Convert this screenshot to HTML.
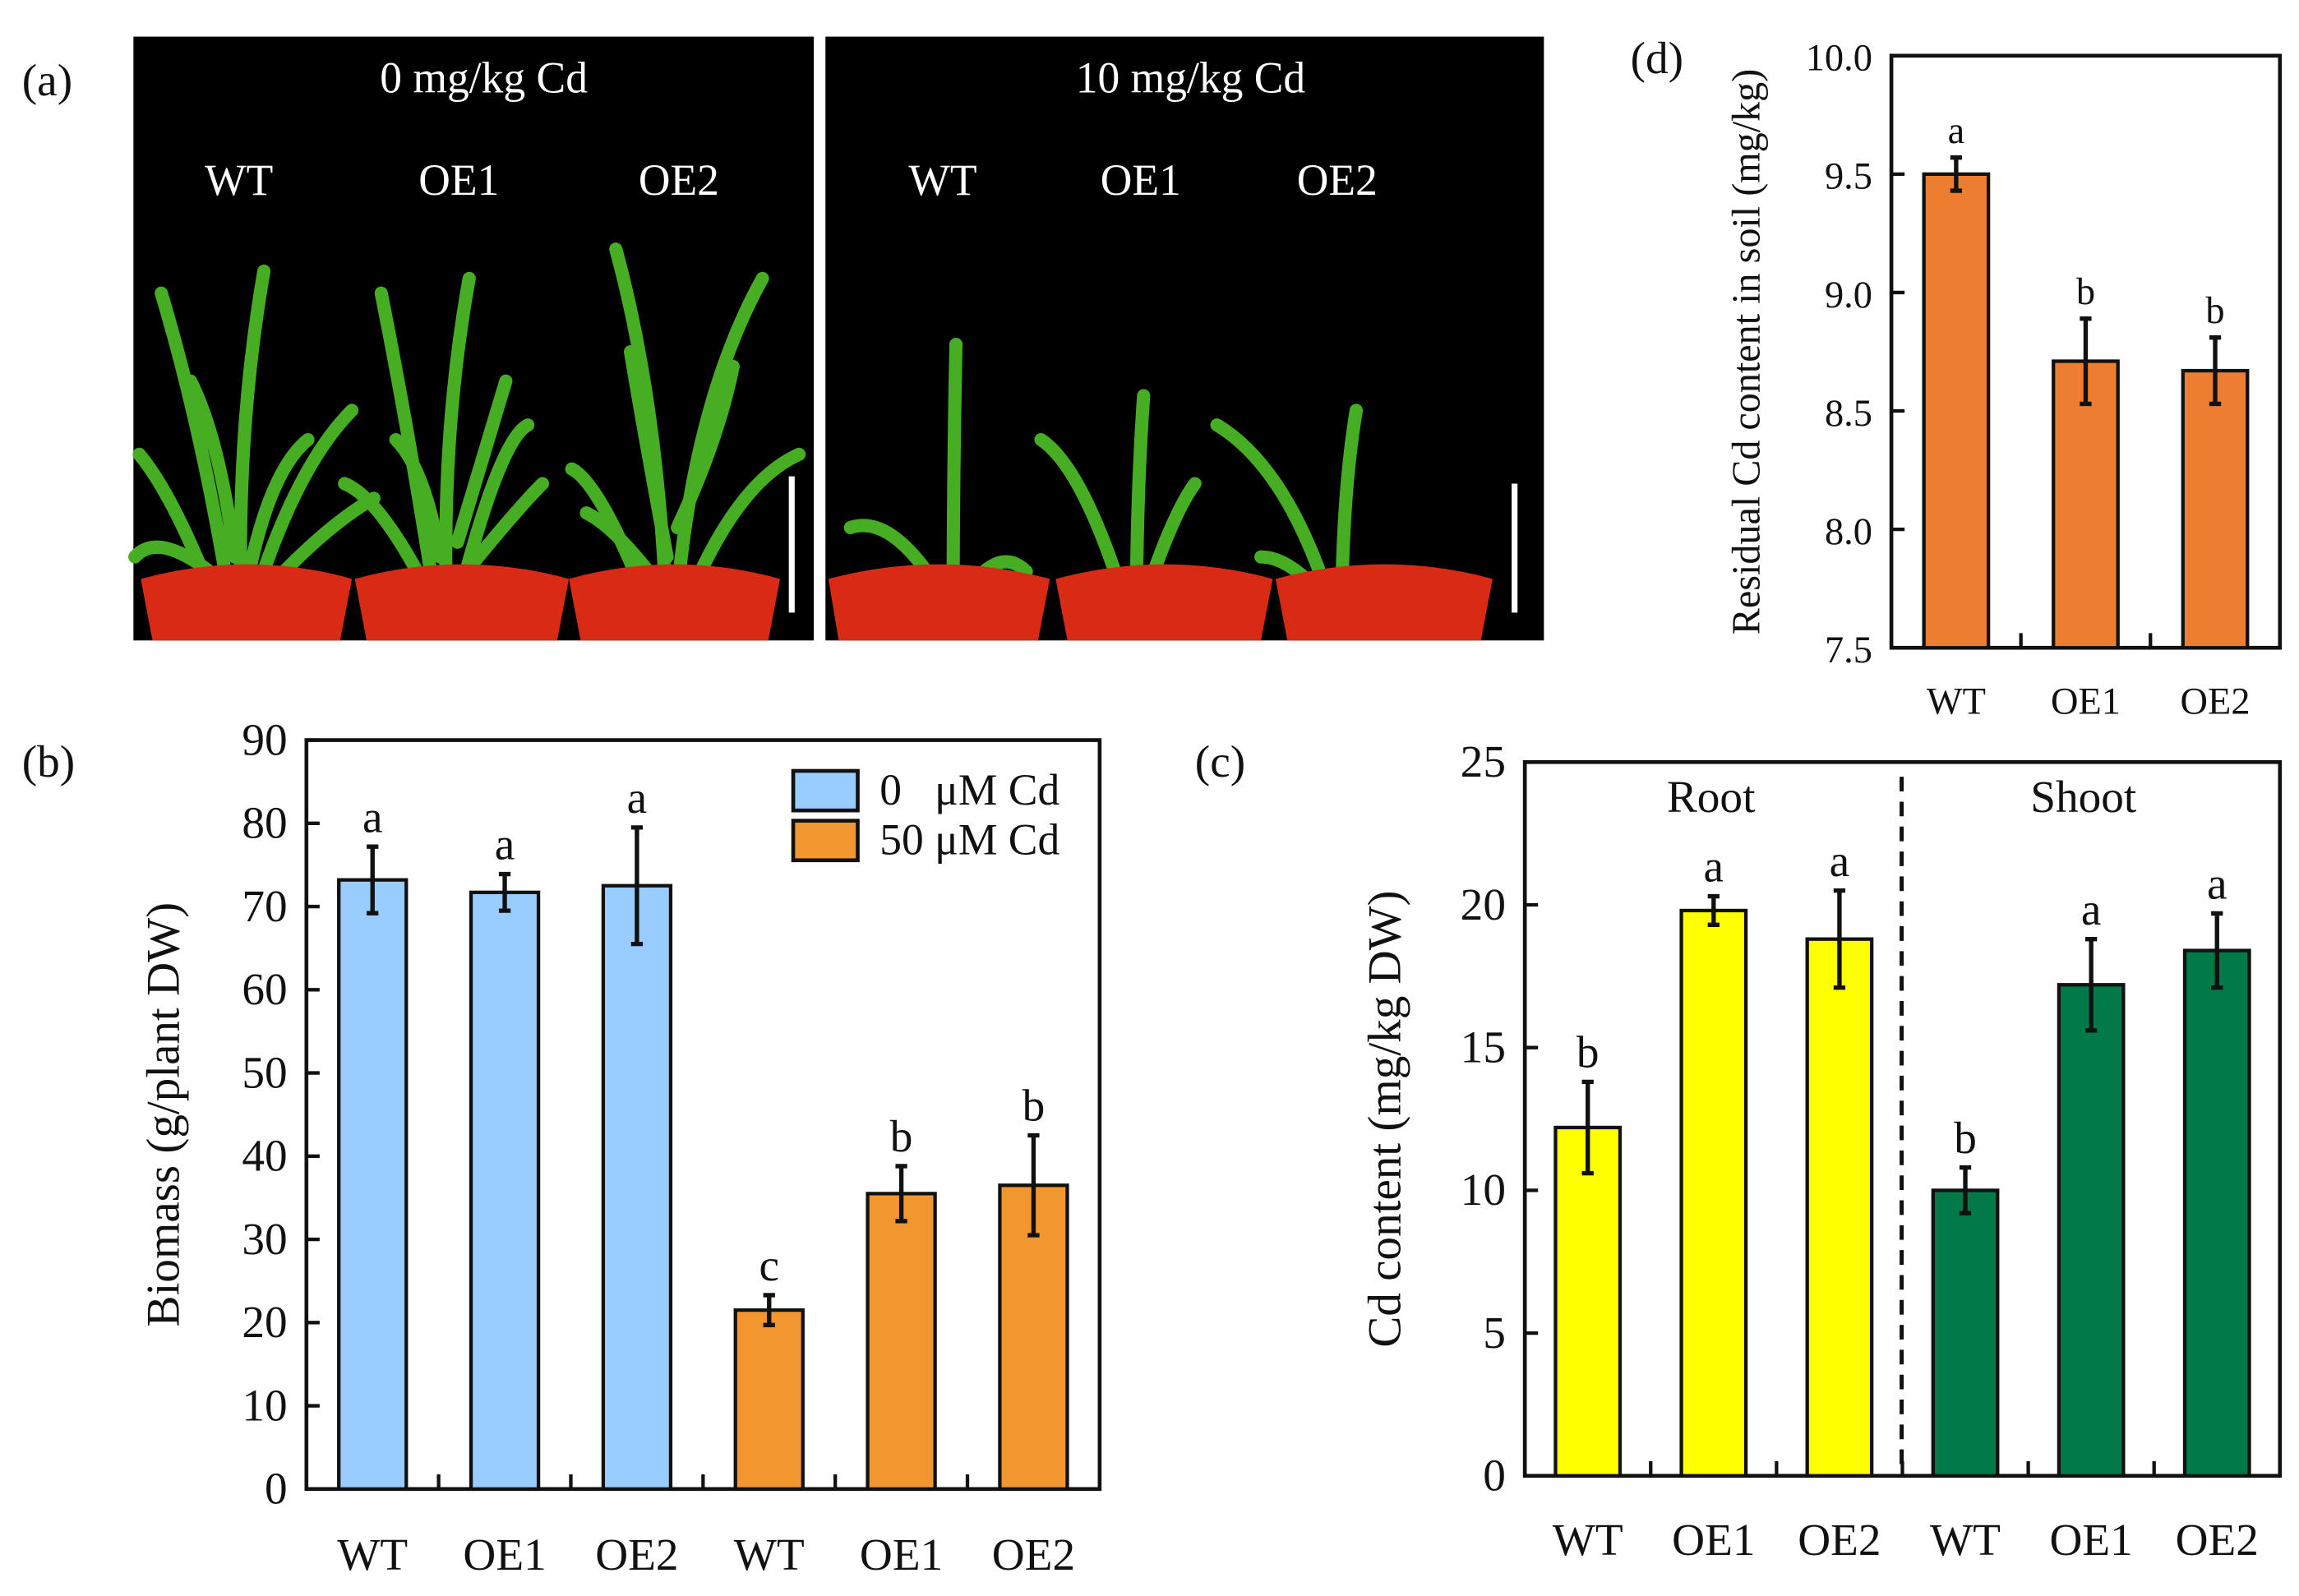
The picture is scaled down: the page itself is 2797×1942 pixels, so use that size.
<!DOCTYPE html>
<html><head><meta charset="utf-8"><style>
html,body{margin:0;padding:0;background:#fff}
svg{display:block}
text{font-family:"Liberation Serif","Times New Roman",serif;fill:#111}
</style></head><body>
<svg id="fig" width="2797" height="1942" viewBox="0 0 1568 1089" preserveAspectRatio="none" xmlns="http://www.w3.org/2000/svg">
<g id="panelA">
  <text x="15" y="65" font-size="31">(a)</text>
  <rect x="91" y="25" width="464" height="412" fill="#000"/>
  <rect x="563" y="25" width="490" height="412" fill="#000"/>
  <g font-size="30" text-anchor="middle">
    <text x="330" y="63" style="fill:#fff">0 mg/kg Cd</text>
    <text x="812" y="63" style="fill:#fff">10 mg/kg Cd</text>
    <text x="163" y="133" style="fill:#fff">WT</text>
    <text x="313" y="133" style="fill:#fff">OE1</text>
    <text x="463" y="133" style="fill:#fff">OE2</text>
    <text x="643" y="133" style="fill:#fff">WT</text>
    <text x="778" y="133" style="fill:#fff">OE1</text>
    <text x="912" y="133" style="fill:#fff">OE2</text>
  </g>
  <g id="plants" fill="none" stroke="#45ae22" stroke-width="9" stroke-linecap="round">
    <path d="M165 430 Q160 300 180 185 M160 430 Q140 300 110 200 M170 420 Q200 320 240 280 M150 420 Q120 340 95 310 M175 410 Q220 360 255 340 M155 400 Q110 360 92 380 M160 380 Q150 300 130 260 M170 390 Q185 320 210 300"/>
    <path d="M305 430 Q300 300 320 190 M300 430 Q280 300 260 200 M310 420 Q340 300 360 290 M295 410 Q260 340 235 330 M310 400 Q350 350 370 330 M300 380 Q290 320 270 300 M312 370 Q330 310 345 260"/>
    <path d="M455 430 Q450 280 420 170 M460 430 Q470 280 520 190 M465 420 Q500 330 545 310 M445 420 Q410 330 390 320 M450 400 Q420 360 400 350 M455 380 Q440 300 430 240 M462 360 Q490 300 500 250"/>
    <path d="M650 430 Q650 330 652 235 M645 410 Q610 350 580 360 M655 410 Q680 370 700 390"/>
    <path d="M775 430 Q775 340 780 270 M770 420 Q740 320 710 300 M780 410 Q800 350 815 330"/>
    <path d="M915 430 Q915 340 925 280 M910 420 Q880 320 830 290 M905 410 Q880 380 860 380"/>
  </g>
  <g fill="#d92a14">
    <path d="M96 395 Q170 375 240 395 L232 437 L104 437Z"/>
    <path d="M242 395 Q315 375 388 395 L380 437 L250 437Z"/>
    <path d="M388 395 Q460 375 532 395 L524 437 L396 437Z"/>
    <path d="M565 395 Q640 375 716 395 L708 437 L572 437Z"/>
    <path d="M720 395 Q795 375 868 395 L860 437 L728 437Z"/>
    <path d="M870 395 Q945 375 1018 395 L1010 437 L878 437Z"/>
  </g>
  <rect x="538" y="325" width="4" height="93" fill="#fff"/>
  <rect x="1031" y="330" width="4" height="88" fill="#fff"/>
</g>
<g id="panelB"></g>
<g id="panelC"></g>
<g id="panelD"></g>
</svg>
<script>
const NS="http://www.w3.org/2000/svg";
// Panel b data
const bCategories=["WT","OE1","OE2","WT","OE1","OE2"];
const bValues=[73.2,71.7,72.5,21.5,35.5,36.5];
const bErrors=[4.0,2.2,7.0,1.8,3.3,6.0];
const bLetters=["a","a","a","c","b","b"];
const bTicks=[0,10,20,30,40,50,60,70,80,90];
// Panel c data
const cCategories=["WT","OE1","OE2","WT","OE1","OE2"];
const cValues=[12.2,19.8,18.8,10.0,17.2,18.4];
const cErrors=[1.6,0.5,1.7,0.8,1.6,1.3];
const cLetters=["b","a","a","b","a","a"];
const cTicks=[0,5,10,15,20,25];
// Panel d data
const dCategories=["WT","OE1","OE2"];
const dValues=[9.50,8.71,8.67];
const dErrors=[0.07,0.18,0.14];
const dLetters=["a","b","b"];
const dTicks=["7.5","8.0","8.5","9.0","9.5","10.0"];

function mk(parent,tag,attrs,txt){const e=document.createElementNS(NS,tag);for(const k in attrs)e.setAttribute(k,attrs[k]);if(txt!==undefined)e.textContent=txt;parent.appendChild(e);return e;}

function chart(g,cfg){
  const {x0,x1,y0,y1,min,max,cats,vals,errs,letters,ticks,colors,barW,fs,ylabel,ylx,xly}=cfg;
  const n=cats.length, step=(x1-x0)/n;
  const xs=i=>x0+step*(i+0.5);
  const ys=v=>y1-(v-min)/(max-min)*(y1-y0);
  const frame=mk(g,"rect",{x:x0,y:y0,width:x1-x0,height:y1-y0,fill:"none",stroke:"#111","stroke-width":2.6});
  
  
  ticks.forEach(t=>{
    const v=parseFloat(t), y=ys(v);
    const tl=mk(g,"line",{x1:x0,x2:x0+9,y1:y,y2:y,stroke:"#111","stroke-width":2.4});
    
    
    const tt=mk(g,"text",{x:x0-13,y:y+10,"font-size":fs,"text-anchor":"end"},String(t));
    
    
  });
  for(let i=1;i<n;i++){
    const tx=x0+step*i;
    const l=mk(g,"line",{x1:tx,x2:tx,y1:y1,y2:y1-10,stroke:"#111","stroke-width":2.4});
    
    
  }
  cats.forEach((c,i)=>{
    const cx=xs(i), top=ys(vals[i]);
    const r=mk(g,"rect",{x:cx-barW/2,y:top,width:barW,height:y1-top,fill:colors[i],stroke:"#111","stroke-width":2.4});
    
    
    const eTop=ys(vals[i]+errs[i]), eBot=ys(vals[i]-errs[i]);
    const e=mk(g,"path",{d:`M${cx} ${eTop}V${eBot}M${cx-4} ${eTop}H${cx+4}M${cx-4} ${eBot}H${cx+4}`,stroke:"#111","stroke-width":3,fill:"none"});
    
    
    const lt=mk(g,"text",{x:cx,y:eTop-10,"font-size":fs,"text-anchor":"middle"},letters[i]);
    
    
    const xl=mk(g,"text",{x:cx,y:xly,"font-size":fs,"text-anchor":"middle"},c);
    
    
  });
  const yl=mk(g,"text",{x:ylx,y:(y0+y1)/2,"font-size":fs+1,"text-anchor":"middle",transform:`rotate(-90 ${ylx} ${(y0+y1)/2})`},ylabel);
  
  
  return {xs,ys,step};
}

// Panel b
const gB=document.getElementById("panelB");
const lb=mk(gB,"text",{x:15,y:530,"font-size":31},"(b)");


chart(gB,{x0:209,x1:750,y0:505,y1:1016,min:0,max:90,cats:bCategories,vals:bValues,errs:bErrors,letters:bLetters,ticks:bTicks,
  colors:["#99ccff","#99ccff","#99ccff","#f29630","#f29630","#f29630"],barW:46,fs:31,ylabel:"Biomass (g/plant DW)",ylx:122,xly:1071});
[["#99ccff","0\u00a0\u00a0\u00a0\u03bcM Cd",526],["#f29630","50 \u03bcM Cd",560]].forEach((d,i)=>{
  const r=mk(gB,"rect",{x:541,y:d[2],width:44,height:27,fill:d[0],stroke:"#111","stroke-width":2.6});
  
  
  const t=mk(gB,"text",{x:600,y:d[2]+23,"font-size":30},d[1]);
  
  
});

// Panel c
const gC=document.getElementById("panelC");
const lc=mk(gC,"text",{x:815,y:530,"font-size":31},"(c)");


chart(gC,{x0:1040,x1:1555,y0:520,y1:1007,min:0,max:25,cats:cCategories,vals:cValues,errs:cErrors,letters:cLetters,ticks:cTicks,
  colors:["#ffff00","#ffff00","#ffff00","#017a48","#017a48","#017a48"],barW:44,fs:31,ylabel:"Cd content (mg/kg DW)",ylx:955,xly:1061});
const dl=mk(gC,"line",{x1:1297,x2:1297,y1:530,y2:1007,stroke:"#111","stroke-width":2.8,"stroke-dasharray":"10 7"});


const rt=mk(gC,"text",{x:1167,y:554,"font-size":31,"text-anchor":"middle"},"Root");


const st=mk(gC,"text",{x:1421,y:554,"font-size":31,"text-anchor":"middle"},"Shoot");



// Panel d
const gD=document.getElementById("panelD");
const ld=mk(gD,"text",{x:1112,y:50,"font-size":31},"(d)");


chart(gD,{x0:1290,x1:1555,y0:38,y1:442,min:7.5,max:10,cats:dCategories,vals:dValues,errs:dErrors,letters:dLetters,ticks:dTicks,
  colors:["#ed7d31","#ed7d31","#ed7d31"],barW:44,fs:26,ylabel:"Residual Cd content in soil (mg/kg)",ylx:1200,xly:487});
</script>
</body></html>
